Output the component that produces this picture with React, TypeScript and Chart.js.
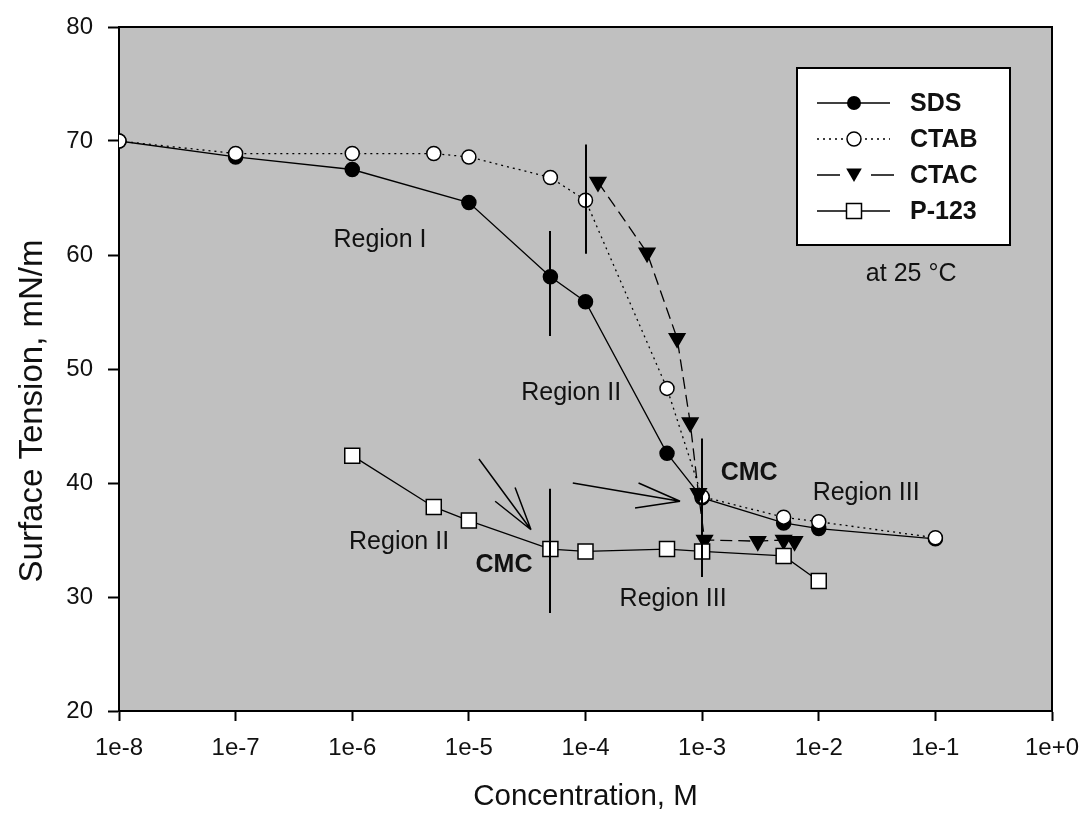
import React, { useEffect, useRef } from 'react';
import { Chart, registerables } from 'chart.js';

Chart.register(...registerables);

// ---- data (concentration in M, surface tension in mN/m) ----
const sdsConc = [1e-8, 1e-7, 1e-6, 1e-5, 5e-5, 1e-4, 5e-4, 1e-3, 5e-3, 1e-2, 1e-1];
const sdsTension = [70.0, 68.6, 67.5, 64.6, 58.1, 55.9, 42.6, 38.7, 36.5, 36.0, 35.1];

const ctabConc = [1e-8, 1e-7, 1e-6, 5e-6, 1e-5, 5e-5, 1e-4, 5e-4, 1e-3, 5e-3, 1e-2, 1e-1];
const ctabTension = [70.0, 68.9, 68.9, 68.9, 68.6, 66.8, 64.8, 48.3, 38.8, 37.0, 36.6, 35.2];

const ctacConc = [1.28e-4, 3.37e-4, 6.1e-4, 7.9e-4, 9.3e-4, 1.05e-3, 3e-3, 5e-3, 6.2e-3];
const ctacTension = [66.4, 60.2, 52.7, 45.3, 39.1, 35.0, 34.9, 35.0, 34.9];

const p123Conc = [1e-6, 5e-6, 1e-5, 5e-5, 1e-4, 5e-4, 1e-3, 5e-3, 1e-2];
const p123Tension = [42.4, 37.9, 36.7, 34.2, 34.0, 34.2, 34.0, 33.6, 31.4];

const seriesNames = ['SDS', 'CTAB', 'CTAC', 'P-123'];

const xTickValues = [1e-8, 1e-7, 1e-6, 1e-5, 1e-4, 1e-3, 1e-2, 1e-1, 1];
const yTickValues = [20, 30, 40, 50, 60, 70, 80];

const xTitle = 'Concentration, M';
const yTitle = 'Surface Tension, mN/m';

// CMC marker lines (vertical)
const cmcLineConc = [5e-5, 1e-4, 1e-3, 5e-5];
const cmcLineTop = [62.1, 69.7, 43.9, 39.5];
const cmcLineBottom = [52.9, 60.1, 31.75, 28.6];

// arrows
const arrowTailConc = [1.22e-5, 7.78e-5];
const arrowTailTension = [42.1, 40.0];
const arrowTipConc = [3.41e-5, 6.47e-4];
const arrowTipTension = [35.9, 38.4];
const arrowBarbAConc = [1.68e-5, 2.85e-4];
const arrowBarbATension = [38.4, 40.0];
const arrowBarbBConc = [2.49e-5, 2.66e-4];
const arrowBarbBTension = [39.6, 37.8];

// text notes
const noteTexts = ['Region I', 'Region II', 'CMC', 'Region III', 'Region II', 'CMC', 'Region III', 'at 25 °C'];
const noteConc = [1.73e-6, 7.54e-5, 2.53e-3, 2.55e-2, 2.52e-6, 2.0e-5, 5.64e-4, 6.2e-2];
const noteTension = [61.3, 47.9, 40.9, 39.1, 34.8, 32.8, 29.8, 58.3];
const noteBold = [false, false, true, false, false, true, false, false];

const FONT = "Arial, 'Liberation Sans', Helvetica, sans-serif";
const TEXT = '#111';

function pts(xs: number[], ys: number[]) {
  return xs.map((x, i) => ({ x, y: ys[i] }));
}

function drawMarker(ctx: CanvasRenderingContext2D, kind: number, x: number, y: number) {
  ctx.save();
  ctx.lineWidth = 1.5;
  ctx.strokeStyle = '#000';
  ctx.beginPath();
  if (kind === 0) {
    ctx.arc(x, y, 7, 0, Math.PI * 2);
    ctx.fillStyle = '#000';
    ctx.fill();
  } else if (kind === 1) {
    ctx.arc(x, y, 7, 0, Math.PI * 2);
    ctx.fillStyle = '#fff';
    ctx.fill();
    ctx.stroke();
  } else if (kind === 2) {
    const r = 9;
    ctx.moveTo(x - r * 0.866, y - r * 0.5);
    ctx.lineTo(x + r * 0.866, y - r * 0.5);
    ctx.lineTo(x, y + r);
    ctx.closePath();
    ctx.fillStyle = '#000';
    ctx.fill();
  } else {
    const s = 7.5;
    ctx.rect(x - s, y - s, 2 * s, 2 * s);
    ctx.fillStyle = '#fff';
    ctx.fill();
    ctx.stroke();
  }
  ctx.restore();
}

const decorPlugin = {
  id: 'decor',
  beforeDraw(chart: any) {
    const { ctx, chartArea: a } = chart;
    ctx.save();
    ctx.fillStyle = '#fff';
    ctx.fillRect(0, 0, chart.width, chart.height);
    ctx.fillStyle = '#c0c0c0';
    ctx.fillRect(a.left, a.top, a.right - a.left, a.bottom - a.top);
    ctx.restore();
  },
  afterDatasetsDraw(chart: any) {
    const { ctx, chartArea: a } = chart;
    const xs = chart.scales.x;
    const ys = chart.scales.y;
    const px = (v: number) => xs.getPixelForValue(v);
    const py = (v: number) => ys.getPixelForValue(v);
    ctx.save();
    // frame top/right
    ctx.strokeStyle = '#000';
    ctx.lineWidth = 2;
    ctx.beginPath();
    ctx.moveTo(a.left, a.top);
    ctx.lineTo(a.right, a.top);
    ctx.lineTo(a.right, a.bottom);
    ctx.stroke();

    // CMC vertical lines
    ctx.lineWidth = 2;
    for (let i = 0; i < cmcLineConc.length; i++) {
      const x = Math.round(px(cmcLineConc[i]));
      ctx.beginPath();
      ctx.moveTo(x, py(cmcLineTop[i]));
      ctx.lineTo(x, py(cmcLineBottom[i]));
      ctx.stroke();
    }
    // arrows
    ctx.lineWidth = 1.5;
    for (let i = 0; i < arrowTipConc.length; i++) {
      const tx = px(arrowTipConc[i]);
      const ty = py(arrowTipTension[i]);
      ctx.beginPath();
      ctx.moveTo(px(arrowTailConc[i]), py(arrowTailTension[i]));
      ctx.lineTo(tx, ty);
      ctx.moveTo(px(arrowBarbAConc[i]), py(arrowBarbATension[i]));
      ctx.lineTo(tx, ty);
      ctx.moveTo(px(arrowBarbBConc[i]), py(arrowBarbBTension[i]));
      ctx.lineTo(tx, ty);
      ctx.stroke();
    }
    // notes
    ctx.fillStyle = TEXT;
    ctx.textAlign = 'center';
    ctx.textBaseline = 'middle';
    for (let i = 0; i < noteTexts.length; i++) {
      ctx.font = `${noteBold[i] ? 'bold ' : ''}25px ${FONT}`;
      ctx.fillText(noteTexts[i], px(noteConc[i]), py(noteTension[i]));
    }

    // legend box
    const bx = a.right - 255, by = a.top + 41, bw = 213, bh = 177;
    ctx.fillStyle = '#fff';
    ctx.fillRect(bx, by, bw, bh);
    ctx.strokeStyle = '#000';
    ctx.lineWidth = 2;
    ctx.strokeRect(bx, by, bw, bh);
    const rows = [35, 71, 107, 143];
    const dashes = [[], [2, 4], [16, 8], []];
    for (let i = 0; i < 4; i++) {
      const y = by + rows[i];
      ctx.save();
      ctx.strokeStyle = '#000';
      ctx.lineWidth = 1.5;
      ctx.setLineDash(dashes[i]);
      ctx.beginPath();
      if (i === 2) {
        ctx.moveTo(bx + 20, y); ctx.lineTo(bx + 43, y);
        ctx.moveTo(bx + 74, y); ctx.lineTo(bx + 97, y);
        ctx.setLineDash([]);
      } else {
        ctx.moveTo(bx + 20, y);
        ctx.lineTo(bx + 93, y);
      }
      ctx.stroke();
      ctx.restore();
      drawMarker(ctx, i, bx + 57, y + (i === 2 ? -2 : 0));
      ctx.fillStyle = TEXT;
      ctx.font = `bold 25px ${FONT}`;
      ctx.textAlign = 'left';
      ctx.textBaseline = 'middle';
      ctx.fillText(seriesNames[i], bx + 113, y + 1);
    }

    // y axis title
    ctx.save();
    ctx.translate(33, (a.top + a.bottom) / 2 + 42);
    ctx.rotate(-Math.PI / 2);
    ctx.fillStyle = TEXT;
    ctx.font = `33px ${FONT}`;
    ctx.textAlign = 'center';
    ctx.textBaseline = 'middle';
    ctx.fillText(yTitle, 0, 0);
    ctx.restore();

    ctx.restore();
  },
};

function fmtExp(v: number) {
  const e = Math.round(Math.log10(v));
  return '1e' + (e >= 0 ? '+' + e : String(e));
}

export default function App() {
  const ref = useRef<HTMLCanvasElement | null>(null);
  useEffect(() => {
    if (!ref.current) return;
    const line = { borderColor: '#000', borderWidth: 1.3, showLine: true, pointBorderColor: '#000', pointBorderWidth: 1.5 };
    const chart = new Chart(ref.current, {
      type: 'scatter',
      data: {
        datasets: [
          { ...line, label: seriesNames[0], data: pts(sdsConc, sdsTension), pointStyle: 'circle', pointRadius: 7, pointBackgroundColor: '#000', order: 4 },
          { ...line, label: seriesNames[1], data: pts(ctabConc, ctabTension), pointStyle: 'circle', pointRadius: 7, pointBackgroundColor: '#fff', borderDash: [2, 4], order: 3 },
          { ...line, label: seriesNames[2], data: pts(ctacConc, ctacTension), pointStyle: 'triangle', pointRotation: 180, pointRadius: 9, pointBackgroundColor: '#000', borderDash: [12, 6], order: 2 },
          { ...line, label: seriesNames[3], data: pts(p123Conc, p123Tension), pointStyle: 'rect', pointRadius: 10.6, pointBackgroundColor: '#fff', order: 1 },
        ] as any,
      },
      options: {
        responsive: false,
        animation: false,
        events: [],
        layout: { padding: { left: 0, top: 27, right: 32, bottom: 0 } },
        plugins: { legend: { display: false }, tooltip: { enabled: false } },
        scales: {
          x: {
            type: 'logarithmic',
            min: 1e-8,
            max: 1,
            afterBuildTicks: (s: any) => { s.ticks = xTickValues.map((v) => ({ value: v })); },
            afterFit: (s: any) => { s.height = 110; s.paddingLeft = 0; s.paddingRight = 0; },
            grid: { display: true, drawOnChartArea: false, drawTicks: true, tickLength: 10, tickColor: '#000', tickWidth: 2 },
            border: { display: true, color: '#000', width: 2 },
            ticks: { autoSkip: false, maxRotation: 0, padding: 13, color: TEXT, font: { family: FONT, size: 24 }, callback: (v: any) => fmtExp(Number(v)) },
            title: { display: true, text: xTitle, color: TEXT, font: { family: FONT, size: 29.5 }, padding: { top: 0, bottom: 6 } },
          },
          y: {
            type: 'linear',
            min: 20,
            max: 80,
            afterBuildTicks: (s: any) => { s.ticks = yTickValues.map((v) => ({ value: v })); },
            afterFit: (s: any) => { s.width = 119; s.paddingTop = 0; s.paddingBottom = 0; },
            grid: { display: true, drawOnChartArea: false, drawTicks: true, tickLength: 11, tickColor: '#000', tickWidth: 2 },
            border: { display: true, color: '#000', width: 2 },
            ticks: { autoSkip: false, padding: 15, color: TEXT, font: { family: FONT, size: 24 } },
            title: { display: false },
          },
        },
      } as any,
      plugins: [decorPlugin],
    });
    return () => chart.destroy();
  }, []);
  return (
    <div style={{ position: 'absolute', left: 0, top: 0, width: 1084, height: 821 }}>
      <canvas ref={ref} width={1084} height={821} style={{ display: 'block' }} />
    </div>
  );
}
